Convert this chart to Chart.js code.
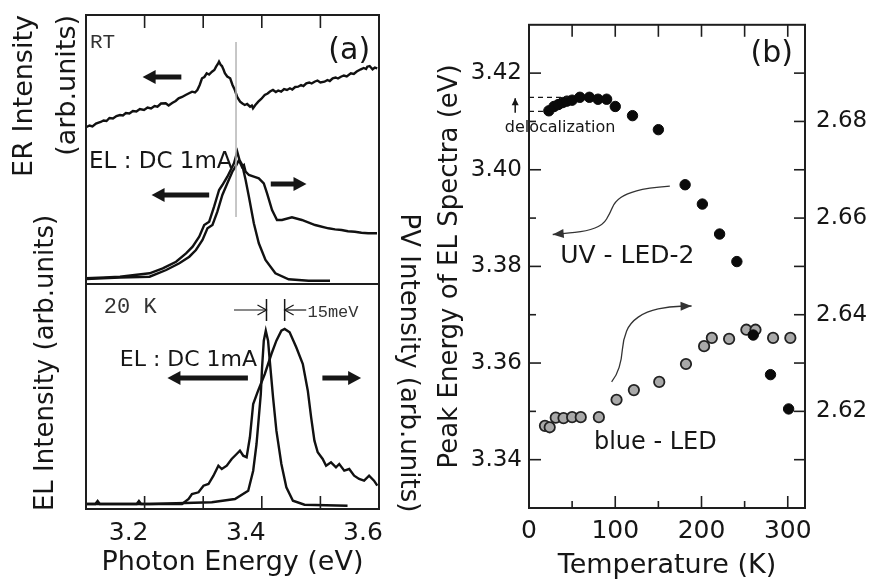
<!DOCTYPE html>
<html><head><meta charset="utf-8">
<script src="https://cdn.jsdelivr.net/npm/chart.js@4.4.1/dist/chart.umd.min.js"></script>
<style>
html,body{margin:0;padding:0;background:#fff;}
#wrap{position:relative;width:869px;height:587px;overflow:hidden;background:#fff;}
canvas{position:absolute;}
</style></head><body>
<div id="wrap">
<canvas id="cA" width="440" height="290" style="left:0;top:0;"></canvas>
<canvas id="cB" width="440" height="387" style="left:0;top:200px;"></canvas>
<canvas id="cC" width="439" height="587" style="left:430px;top:0;"></canvas>
</div>
<script>
// ---------------- Panel (a): photon energy axis ----------------
const energyRange = [3.1, 3.6];
const energyTickLabels = [3.2, 3.4, 3.6];
const energyTickMarks = [3.2, 3.3, 3.4, 3.5];

// RT spectra  [photon energy (eV), intensity (arb.)]
const erRT = [[3.100,156.7],[3.106,158.5],[3.111,157.5],[3.117,160.5],[3.125,162],[3.130,163.5],[3.135,163],[3.140,166],[3.146,165.5],[3.152,168],[3.158,169],[3.163,168.5],[3.168,171],[3.174,170.5],[3.180,173],[3.186,172.5],[3.192,175],[3.199,174],[3.205,176.5],[3.211,175.5],[3.217,178],[3.222,177.3],[3.228,180.5],[3.236,180.7],[3.241,178.5],[3.247,181],[3.253,183],[3.258,185.7],[3.264,187],[3.270,189],[3.275,190.5],[3.281,192.3],[3.286,191.5],[3.290,194],[3.294,199],[3.298,205.7],[3.302,207],[3.306,210.7],[3.310,209.5],[3.315,212.3],[3.319,214],[3.322,217.3],[3.325,220],[3.327,222.3],[3.330,219],[3.332,218],[3.335,214],[3.337,210.7],[3.341,207.5],[3.346,205.7],[3.350,199],[3.354,194],[3.358,187],[3.363,182.3],[3.367,180.5],[3.371,179],[3.375,180],[3.380,177.3],[3.383,178.5],[3.385,175.7],[3.389,179],[3.394,182.3],[3.399,185],[3.405,189],[3.410,190.5],[3.414,192.5],[3.419,194],[3.424,192],[3.428,193.5],[3.433,192.3],[3.438,195],[3.443,194],[3.448,195.7],[3.452,194.5],[3.457,197],[3.462,197.3],[3.467,199],[3.471,198],[3.476,200.7],[3.481,201.5],[3.485,200.5],[3.490,202.3],[3.495,203.5],[3.500,201.5],[3.507,202.3],[3.512,204],[3.516,203],[3.521,205.7],[3.526,206.5],[3.530,205.5],[3.535,207.3],[3.540,208.5],[3.545,207.5],[3.552,210.7],[3.557,210],[3.562,212.5],[3.569,214.7],[3.574,216],[3.578,215],[3.580,217.3],[3.584,218],[3.589,214.7],[3.593,216.5],[3.597,215.7]];
const elRT = [[3.100,5.7],[3.132,6.5],[3.158,7.3],[3.183,9],[3.2085,10.7],[3.231,15.7],[3.2537,22.3],[3.2707,30.7],[3.2819,37.3],[3.2932,47.3],[3.3017,59],[3.3102,62.3],[3.3186,77.3],[3.3271,94],[3.3327,99],[3.3412,107.3],[3.3469,114],[3.3525,120.7],[3.3581,132.3],[3.3620,124],[3.3666,119],[3.3724,104],[3.378,87.3],[3.3864,60.7],[3.3949,40.7],[3.4063,24],[3.4232,10.7],[3.4458,4.7],[3.4797,3.3],[3.5164,3.3]];
const pvRT = [[3.100,5],[3.158,6.5],[3.2085,7.3],[3.2368,14],[3.2593,20.7],[3.2763,27.3],[3.2876,34],[3.2988,44],[3.3073,55.7],[3.3158,59],[3.3242,72.3],[3.3327,89],[3.3412,100.7],[3.3497,112.3],[3.3559,118],[3.361,124],[3.3661,117],[3.3695,119],[3.3724,112.3],[3.378,109],[3.3864,107.3],[3.3949,105.7],[3.4034,100.7],[3.409,90.7],[3.4175,74],[3.4259,64],[3.4344,64],[3.4514,66.7],[3.4683,64],[3.491,59],[3.5136,55.7],[3.525,54.6],[3.5361,54],[3.547,52.8],[3.5588,52.3],[3.570,51.2],[3.5814,50.7],[3.5966,50.7]];

// 20 K spectra
const el20K = [[3.100,5],[3.2085,5],[3.3147,6.7],[3.3542,10],[3.3768,18.3],[3.3853,38.3],[3.391,65],[3.3949,91.7],[3.3983,115],[3.4005,141.7],[3.4034,168.3],[3.4068,178.3],[3.4107,168.3],[3.4136,148.3],[3.4192,111.7],[3.4249,78.3],[3.4334,45],[3.4419,21.7],[3.4531,8.3],[3.4729,4.3],[3.5463,3.3]];
const pv20K = [[3.100,5],[3.1160,5],[3.1198,8],[3.1236,5],[3.1865,5],[3.1903,8],[3.1941,5],[3.2639,5],[3.2751,10],[3.2808,15],[3.292,16.7],[3.3005,23.3],[3.309,25],[3.3175,33.3],[3.3259,43.3],[3.3317,40],[3.3402,43.3],[3.3486,50],[3.3571,55],[3.3627,58.3],[3.3683,53.3],[3.3741,51.7],[3.3797,71.7],[3.3853,105],[3.3937,118.3],[3.4051,135],[3.4164,155],[3.4249,168.3],[3.4334,178.3],[3.439,180],[3.4475,176.7],[3.4588,161.7],[3.47,145],[3.4785,118.3],[3.4842,91.7],[3.4898,68.3],[3.4954,56.7],[3.5039,50],[3.5097,43.3],[3.5181,46.7],[3.5266,41.7],[3.5322,45],[3.5407,38.3],[3.5492,40],[3.5576,33.3],[3.5661,30],[3.5746,28.3],[3.5831,33.3],[3.5915,28.3],[3.5971,23.3]];

// ---------------- Panel (b): peak energy vs temperature ----------------
const tempUV  = [23, 29, 34, 39, 44, 50, 59, 70, 80, 90, 100, 120, 150, 181, 201, 221, 241, 260, 280, 301];
const peakUV  = [3.4122, 3.4131, 3.4135, 3.4139, 3.4142, 3.4144, 3.4150, 3.4150, 3.4146, 3.4146, 3.4131, 3.4112, 3.4083, 3.3969, 3.3929, 3.3867, 3.3810, 3.3658, 3.3576, 3.3505];
const tempBlue = [18.5, 24, 31, 40, 50, 60, 81, 101.5, 121.6, 151, 182, 203, 212, 232, 252, 262.6, 283, 303];
const peakBlue = [2.6170, 2.6167, 2.6187, 2.6186, 2.6188, 2.6188, 2.6188, 2.6224, 2.6244, 2.6261, 2.6298, 2.6335, 2.6352, 2.6350, 2.6369, 2.6369, 2.6352, 2.6352];

const tempTickLabels = [0, 100, 200, 300];
const tempTickMarks  = [50, 100, 150, 200, 250, 300];
const uvTickLabels   = [3.34, 3.36, 3.38, 3.40, 3.42];
const uvTickMarks    = [3.34, 3.35, 3.36, 3.37, 3.38, 3.39, 3.40, 3.41, 3.42];
const blueTickLabels = [2.62, 2.64, 2.66, 2.68];
const blueTickMarks  = [2.61, 2.62, 2.63, 2.64, 2.65, 2.66, 2.67, 2.68, 2.69];

// ---------------- plugins ----------------
Chart.defaults.font.family = "'DejaVu Sans', sans-serif";
Chart.defaults.color = '#161616';

const framePlugin = {
  id: 'frame',
  afterDatasetsDraw(chart, args, o) {
    const {ctx, chartArea: a} = chart;
    const top = (o.topValue !== undefined) ? chart.scales[o.topScale].getPixelForValue(o.topValue) : a.top;
    ctx.save();
    ctx.strokeStyle = '#1e1e1e';
    ctx.lineWidth = 2;
    ctx.strokeRect(a.left, top, a.right - a.left, a.bottom - top);
    ctx.lineWidth = 1.6;
    (o.marks || []).forEach(m => {
      const sc = chart.scales[m.scale];
      m.values.forEach(v => {
        const len = (m.majors && !m.majors.some(q => Math.abs(q - v) < 1e-9)) ? m.minorLen : m.len;
        const p = sc.getPixelForValue(v);
        ctx.beginPath();
        if (m.edge === 'top')    { ctx.moveTo(p, top);      ctx.lineTo(p, top + len); }
        if (m.edge === 'bottom') { ctx.moveTo(p, a.bottom); ctx.lineTo(p, a.bottom - len); }
        if (m.edge === 'left')   { ctx.moveTo(a.left, p);   ctx.lineTo(a.left + len, p); }
        if (m.edge === 'right')  { ctx.moveTo(a.right, p);  ctx.lineTo(a.right - len, p); }
        ctx.stroke();
      });
    });
    ctx.restore();
  }
};

function head(ctx, x1, y1, x2, y2, len, half) {
  const g = Math.atan2(y2 - y1, x2 - x1), c = Math.cos(g), s = Math.sin(g);
  ctx.beginPath();
  ctx.moveTo(x2, y2);
  ctx.lineTo(x2 - len * c + half * s, y2 - len * s - half * c);
  ctx.lineTo(x2 - len * c - half * s, y2 - len * s + half * c);
  ctx.closePath();
  ctx.fill();
}
function chevron(ctx, x1, y1, x2, y2, len, half) {
  const g = Math.atan2(y2 - y1, x2 - x1), c = Math.cos(g), s = Math.sin(g);
  ctx.beginPath();
  ctx.moveTo(x2 - len * c + half * s, y2 - len * s - half * c);
  ctx.lineTo(x2, y2);
  ctx.lineTo(x2 - len * c - half * s, y2 - len * s + half * c);
  ctx.stroke();
}

const notesPlugin = {
  id: 'notes',
  afterDraw(chart, args, o) {
    const ctx = chart.ctx;
    const xs = chart.scales[o.xScale || 'x'], ys = chart.scales[o.yScale || 'y'];
    const X = v => xs.getPixelForValue(v), Y = v => ys.getPixelForValue(v);
    ctx.save();
    (o.items || []).forEach(it => {
      ctx.strokeStyle = it.color || '#161616';
      ctx.fillStyle = it.color || '#161616';
      ctx.setLineDash(it.dash || []);
      if (it.t === 'text') {
        ctx.font = it.font;
        ctx.textAlign = it.align || 'left';
        ctx.textBaseline = 'middle';
        ctx.fillText(it.text, X(it.x), Y(it.y));
      } else if (it.t === 'line') {
        ctx.lineWidth = it.width || 1;
        ctx.beginPath();
        it.pts.forEach((p, i) => i ? ctx.lineTo(X(p[0]), Y(p[1])) : ctx.moveTo(X(p[0]), Y(p[1])));
        ctx.stroke();
      } else if (it.t === 'block') {
        const x1 = X(it.from[0]), y1 = Y(it.from[1]), x2 = X(it.to[0]), y2 = Y(it.to[1]);
        const g = Math.atan2(y2 - y1, x2 - x1);
        ctx.lineWidth = it.width;
        ctx.beginPath();
        ctx.moveTo(x1, y1);
        ctx.lineTo(x2 - it.head * 0.8 * Math.cos(g), y2 - it.head * 0.8 * Math.sin(g));
        ctx.stroke();
        head(ctx, x1, y1, x2, y2, it.head, it.half);
      } else if (it.t === 'thin') {
        const x1 = X(it.from[0]), y1 = Y(it.from[1]), x2 = X(it.to[0]), y2 = Y(it.to[1]);
        ctx.lineWidth = it.width || 1;
        ctx.beginPath(); ctx.moveTo(x1, y1); ctx.lineTo(x2, y2); ctx.stroke();
        if (it.open) chevron(ctx, x1, y1, x2, y2, it.head, it.half);
        else head(ctx, x1, y1, x2, y2, it.head, it.half);
      } else if (it.t === 'curve') {
        const P = it.pts.map(p => [X(p[0]), Y(p[1])]);
        ctx.lineWidth = it.width || 1.2;
        ctx.beginPath();
        ctx.moveTo(P[0][0], P[0][1]);
        for (let i = 1; i < P.length - 1; i++) {
          const mx = (P[i][0] + P[i + 1][0]) / 2, my = (P[i][1] + P[i + 1][1]) / 2;
          ctx.quadraticCurveTo(P[i][0], P[i][1], mx, my);
        }
        const n = P.length;
        ctx.lineTo(P[n - 1][0], P[n - 1][1]);
        ctx.stroke();
        head(ctx, P[n - 2][0], P[n - 2][1], P[n - 1][0], P[n - 1][1], it.head, it.half);
      }
    });
    ctx.restore();
  }
};
Chart.register(framePlugin, notesPlugin);

const xy = arr => arr.map(p => ({x: p[0], y: p[1]}));
const curve = (data, axis) => ({data: xy(data), yAxisID: axis, showLine: true, borderColor: '#111', borderWidth: 2.4, pointRadius: 0, tension: 0, fill: false});
const fixW = w => s => { s.width = w; };
const fixH = h => s => { s.height = h; };
const noAxisLines = {grid: {display: false, drawTicks: false}, border: {display: false}};

const sansTitle = size => ({family: "'DejaVu Sans', sans-serif", size: size, lineHeight: 1.2});

// ---------- chart A : RT ----------
new Chart(document.getElementById('cA'), {
  type: 'scatter',
  data: {datasets: [curve(erRT, 'y'), curve(elRT, 'y'), curve(pvRT, 'y2')]},
  options: {
    responsive: false, animation: false,
    layout: {padding: {top: 15, bottom: 6, left: 0, right: 0}},
    plugins: {
      legend: {display: false}, tooltip: {enabled: false},
      frame: {marks: [{scale: 'x', edge: 'top', values: energyTickMarks, len: 13}]},
      notes: {items: [
        {t: 'line', pts: [[3.356, 242], [3.356, 67]], color: '#b5b5b5', width: 1.5},
        {t: 'text', text: 'RT', x: 3.1068, y: 242, font: "21px 'Liberation Mono', monospace", color: '#333'},
        {t: 'text', text: '(a)', x: 3.5492, y: 233, align: 'center', font: "30px 'DejaVu Sans', sans-serif"},
        {t: 'block', from: [3.2627, 207], to: [3.1966, 207], width: 5, head: 13, half: 7},
        {t: 'text', text: 'EL : DC 1mA', x: 3.1051, y: 122, font: "23px 'DejaVu Sans', sans-serif"},
        {t: 'block', from: [3.3102, 89], to: [3.2119, 89], width: 5, head: 13, half: 7},
        {t: 'block', from: [3.4153, 100], to: [3.4763, 100], width: 5, head: 13, half: 7}
      ]}
    },
    scales: {
      x: {type: 'linear', min: energyRange[0], max: energyRange[1], display: false},
      y: {type: 'linear', position: 'left', min: 0, max: 269, ...noAxisLines,
          ticks: {display: false}, afterFit: fixW(86),
          title: {display: true, text: ['ER Intensity', '(arb.units)'], align: 'end',
                  font: {family: "'DejaVu Sans', sans-serif", size: 27, lineHeight: 1.6}, padding: {top: 3, bottom: 0}}},
      y2: {type: 'linear', position: 'right', min: 0, max: 269, ...noAxisLines,
           ticks: {display: false}, afterFit: fixW(61)}
    }
  }
});

// ---------- chart B : 20 K ----------
// The plotted box spans 0..225 (arb.); the axis extends to 292 so that the
// axis titles sit where they do in the original figure.
new Chart(document.getElementById('cB'), {
  type: 'scatter',
  data: {datasets: [curve(el20K, 'y'), curve(pv20K, 'y2')]},
  options: {
    responsive: false, animation: false,
    layout: {padding: {top: 17, bottom: 0, left: 0, right: 0}},
    plugins: {
      legend: {display: false}, tooltip: {enabled: false},
      frame: {topScale: 'y', topValue: 225, marks: [{scale: 'x', edge: 'bottom', values: energyTickMarks, len: 13}]},
      notes: {items: [
        {t: 'text', text: '20 K', x: 3.1305, y: 202, font: "22px 'Liberation Mono', monospace", color: '#333'},
        {t: 'text', text: 'EL : DC 1mA', x: 3.1576, y: 149, font: "22px 'DejaVu Sans', sans-serif"},
        {t: 'block', from: [3.3763, 131], to: [3.239, 131], width: 5, head: 13, half: 7},
        {t: 'block', from: [3.5034, 131], to: [3.5695, 131], width: 5, head: 13, half: 7},
        {t: 'thin', from: [3.3525, 199], to: [3.408, 199], width: 1.2, head: 9, half: 5, open: true},
        {t: 'thin', from: [3.4758, 199], to: [3.439, 199], width: 1.2, head: 9, half: 5, open: true},
        {t: 'line', pts: [[3.408, 210], [3.408, 188]], width: 1.5},
        {t: 'line', pts: [[3.439, 210], [3.439, 188]], width: 1.5},
        {t: 'text', text: '15meV', x: 3.478, y: 197, font: "17px 'Liberation Mono', monospace", color: '#333'}
      ]}
    },
    scales: {
      x: {type: 'linear', min: energyRange[0], max: energyRange[1], ...noAxisLines,
          afterFit: fixH(78),
          afterBuildTicks: s => { s.ticks = energyTickLabels.map(v => ({value: v})); },
          ticks: {autoSkip: false, maxRotation: 0, labelOffset: -16, padding: 9,
                  font: {size: 25}, callback: v => Number(v).toFixed(1)},
          title: {display: true, text: 'Photon Energy (eV)', font: sansTitle(27), padding: {top: 0, bottom: 8}}},
      y: {type: 'linear', position: 'left', min: 0, max: 292, ...noAxisLines,
          ticks: {display: false}, afterFit: fixW(86),
          title: {display: true, text: 'EL Intensity (arb.units)', font: sansTitle(26), padding: {top: 31, bottom: 0}}},
      y2: {type: 'linear', position: 'right', min: 0, max: 292, ...noAxisLines,
           ticks: {display: false}, afterFit: fixW(61),
           title: {display: true, text: 'PV Intensity (arb.units)', font: sansTitle(26), padding: {top: 17, bottom: 0}}}
    }
  }
});

// ---------- chart C : panel (b) ----------
new Chart(document.getElementById('cC'), {
  type: 'scatter',
  data: {datasets: [
    {label: 'UV - LED-2', data: tempUV.map((t, i) => ({x: t, y: peakUV[i]})), yAxisID: 'y',
     pointRadius: 5.2, pointBackgroundColor: '#0a0a0a', pointBorderColor: '#0a0a0a', pointBorderWidth: 1},
    {label: 'blue - LED', data: tempBlue.map((t, i) => ({x: t, y: peakBlue[i]})), yAxisID: 'y2',
     pointRadius: 5.2, pointBackgroundColor: '#a9a9a9', pointBorderColor: '#222', pointBorderWidth: 1.8}
  ]},
  options: {
    responsive: false, animation: false,
    layout: {padding: {top: 18, bottom: 0, left: 0, right: 0}},
    plugins: {
      legend: {display: false}, tooltip: {enabled: false},
      frame: {marks: [
        {scale: 'x', edge: 'top', values: tempTickMarks, len: 12},
        {scale: 'x', edge: 'bottom', values: tempTickMarks, majors: tempTickLabels, len: 12, minorLen: 7},
        {scale: 'y', edge: 'left', values: uvTickMarks, majors: uvTickLabels, len: 12, minorLen: 7},
        {scale: 'y2', edge: 'right', values: blueTickMarks, len: 11}
      ]},
      notes: {items: [
        {t: 'text', text: '(b)', x: 281.5, y: 3.4239, align: 'center', font: "30px 'DejaVu Sans', sans-serif"},
        {t: 'line', pts: [[0, 3.4150], [45, 3.4150]], dash: [5, 4], width: 1.2},
        {t: 'line', pts: [[0, 3.4121], [21, 3.4121]], dash: [5, 4], width: 1.2},
        {t: 'thin', from: [-16, 3.4118], to: [-16, 3.4148], width: 1.5, head: 7, half: 3.5},
        {t: 'text', text: 'delocalization', x: 36, y: 3.4087, align: 'center', font: "16px 'DejaVu Sans', sans-serif"},
        {t: 'curve', pts: [[163.3, 3.3966], [136.3, 3.3962], [113.2, 3.3951], [99.6, 3.3934], [93.8, 3.3910], [86.1, 3.3886], [66.8, 3.3873], [39.7, 3.3868], [27.5, 3.3866]], width: 1.3, head: 11, half: 4.5, color: '#333'},
        {t: 'text', text: 'UV - LED-2', x: 114, y: 3.3821, align: 'center', font: "25px 'DejaVu Sans', sans-serif"},
        {t: 'curve', pts: [[95.8, 3.3561], [101.6, 3.3574], [107.4, 3.3608], [109.2, 3.3649], [117, 3.3683], [136.3, 3.3707], [163.3, 3.3717], [188.5, 3.3718]], width: 1.3, head: 11, half: 4.5, color: '#333'},
        {t: 'text', text: 'blue - LED', x: 146.5, y: 3.3435, align: 'center', font: "24px 'DejaVu Sans', sans-serif"}
      ]}
    },
    scales: {
      x: {type: 'linear', min: 0, max: 320, ...noAxisLines, afterFit: fixH(79),
          afterBuildTicks: s => { s.ticks = tempTickLabels.map(v => ({value: v})); },
          ticks: {autoSkip: false, maxRotation: 0, padding: 8, font: {size: 25}, callback: v => String(v)},
          title: {display: true, text: 'Temperature (K)', font: sansTitle(27), padding: {top: 0, bottom: 5}}},
      y: {type: 'linear', position: 'left', min: 3.33, max: 3.43, ...noAxisLines, afterFit: fixW(99),
          afterBuildTicks: s => { s.ticks = uvTickLabels.map(v => ({value: v})); },
          ticks: {autoSkip: false, padding: 7, font: {size: 23}, callback: v => Number(v).toFixed(2)},
          title: {display: true, text: 'Peak Energy of EL Spectra (eV)', font: sansTitle(26), padding: {top: 5, bottom: 0}}},
      y2: {type: 'linear', position: 'right', min: 2.60, max: 2.70, ...noAxisLines, afterFit: fixW(64),
           afterBuildTicks: s => { s.ticks = blueTickLabels.map(v => ({value: v})); },
           ticks: {autoSkip: false, padding: 11, font: {size: 23}, callback: v => Number(v).toFixed(2)}}
    }
  }
});
</script>
</body></html>
